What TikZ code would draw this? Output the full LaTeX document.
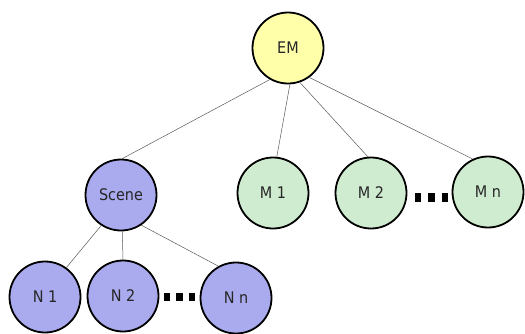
\documentclass[tikz,border=0pt]{standalone}
\usepackage{fontspec}
\setmainfont{DejaVu Sans Condensed}
\usepackage{xcolor}
\usepackage{tikz}
\definecolor{emyellow}{RGB}{255,255,170}
\definecolor{scenepurple}{RGB}{170,170,238}
\definecolor{modelgreen}{RGB}{208,236,208}
\tikzset{
    ball/.style={circle, draw=black, line width=1.8pt, minimum size=71pt, inner sep=0pt, text=black!85, font=\fontsize{16}{18}\selectfont},
    link/.style={draw=black!65, line width=0.5pt}
}

\begin{document}
\begin{tikzpicture}[x=1pt, y=-1pt]
            \useasboundingbox (0, 0) rectangle (525, 333);

            \node[ball, fill=emyellow] (em) at (288, 48) {EM};

            \node[ball, fill=scenepurple] (scene) at (121, 195) {Scene};
            \node[ball, fill=modelgreen] (m1) at (273, 193) {M 1};
            \node[ball, fill=modelgreen] (m2) at (371, 193) {M 2};
            \node[ball, fill=modelgreen] (mn) at (488, 192) {M n};

            \node[ball, fill=scenepurple] (n1) at (45, 297) {N 1};
            \node[ball, fill=scenepurple] (n2) at (123, 296) {N 2};
            \node[ball, fill=scenepurple] (nn) at (236, 298) {N n};

            \draw[link] (em.240) -- (scene.88);
            \draw[link] (em.273) -- (m1.84);
            \draw[link] (em.289) -- (m2.95);
            \draw[link] (em.306) -- (mn.115);

            \draw[link] (scene.237) -- (n1.54);
            \draw[link] (scene.272) -- (n2.90);
            \draw[link] (scene.304) -- (nn.119);

            % gaps between the last two children
            \foreach \x in {418, 431.5, 445}
                \fill (\x - 3.3, 193) rectangle (\x + 3.3, 201.5);
            \foreach \x in {167, 179.5, 192}
                \fill (\x - 3.3, 292.5) rectangle (\x + 3.3, 301);
        \end{tikzpicture}
\end{document}
